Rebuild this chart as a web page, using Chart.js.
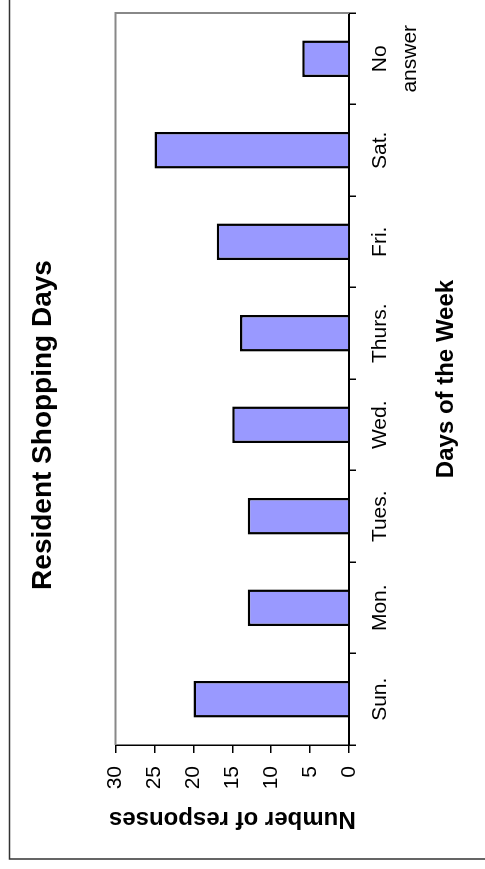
<!DOCTYPE html>
<html>
<head>
<meta charset="utf-8">
<script src="https://cdn.jsdelivr.net/npm/chart.js@4/dist/chart.umd.min.js"></script>
<style>
  html, body { margin: 0; padding: 0; background: #fff; overflow: hidden; }
  body { width: 485px; height: 869px; position: relative; }
  #wrap { position: absolute; left: 0; top: 0; width: 869px; height: 485px;
          transform-origin: 0 0; transform: translateY(869px) rotate(-90deg); }
</style>
</head>
<body>
<div id="wrap"><canvas id="c" width="869" height="485"></canvas></div>
<script>
const categories = ["Sun.", "Mon.", "Tues.", "Wed.", "Thurs.", "Fri.", "Sat.", ["No", "answer"]];
const responses = [20, 13, 13, 15, 14, 17, 25, 6];
const valueTicks = [0, 5, 10, 15, 20, 25, 30];
const titleText = "Resident Shopping Days";
const xTitle = "Days of the Week";
const yTitle = "Number of responses";

const FONT = "'Liberation Sans', Arial, Helvetica, sans-serif";

const frame = {
  id: 'frame',
  beforeDraw(chart) {
    const ctx = chart.ctx;
    ctx.save();
    ctx.strokeStyle = '#333';
    ctx.lineWidth = 1.5;
    ctx.strokeRect(10, 9.5, 1000, 1000);
    ctx.restore();
  },
  afterDatasetsDraw(chart) {
    const a = chart.chartArea, ctx = chart.ctx;
    ctx.save();
    ctx.strokeStyle = '#888';
    ctx.lineWidth = 2;
    ctx.beginPath();
    ctx.moveTo(a.left, a.top);
    ctx.lineTo(a.right, a.top);
    ctx.lineTo(a.right, a.bottom);
    ctx.stroke();
    ctx.restore();
  }
};

new Chart(document.getElementById('c'), {
  type: 'bar',
  data: {
    labels: categories,
    datasets: [{
      data: responses,
      backgroundColor: '#9999FF',
      borderColor: '#000',
      borderWidth: 2.5,
      categoryPercentage: 1,
      barPercentage: 0.4
    }]
  },
  plugins: [frame],
  options: {
    responsive: false,
    animation: false,
    layout: { padding: { left: 32, right: 13, top: 0, bottom: 0 } },
    plugins: {
      legend: { display: false },
      tooltip: { enabled: false },
      title: {
        display: true,
        text: titleText,
        color: '#000',
        font: { family: FONT, size: 28, weight: 'bold', lineHeight: 1.2 },
        padding: { top: 26, bottom: 56 }
      }
    },
    scales: {
      x: {
        afterFit(s) { s.height = 136; },
        grid: { offset: true, drawOnChartArea: false, tickLength: 7, color: '#000', lineWidth: 1.5 },
        border: { color: '#000', width: 2 },
        ticks: { color: '#000', padding: 10, maxRotation: 0, autoSkip: false,
                 font: { family: FONT, size: 21, lineHeight: 1.4 } },
        title: { display: true, text: xTitle, color: '#000',
                 font: { family: FONT, size: 24, weight: 'bold', lineHeight: 1.2 },
                 padding: { top: 0, bottom: 24 } }
      },
      y: {
        min: 0, max: 30,
        afterFit(s) { s.width = 92; },
        afterBuildTicks(s) { s.ticks = valueTicks.map(v => ({ value: v })); },
        grid: { drawOnChartArea: false, tickLength: 8, color: '#000', lineWidth: 1.5 },
        border: { color: '#000', width: 1.5 },
        ticks: { color: '#000', padding: 13, font: { family: FONT, size: 21 } },
        title: { display: true, text: yTitle, color: '#000',
                 font: { family: FONT, size: 24, weight: 'bold', lineHeight: 1.2 },
                 padding: { top: 4, bottom: 0 } }
      }
    }
  }
});
</script>
</body>
</html>
